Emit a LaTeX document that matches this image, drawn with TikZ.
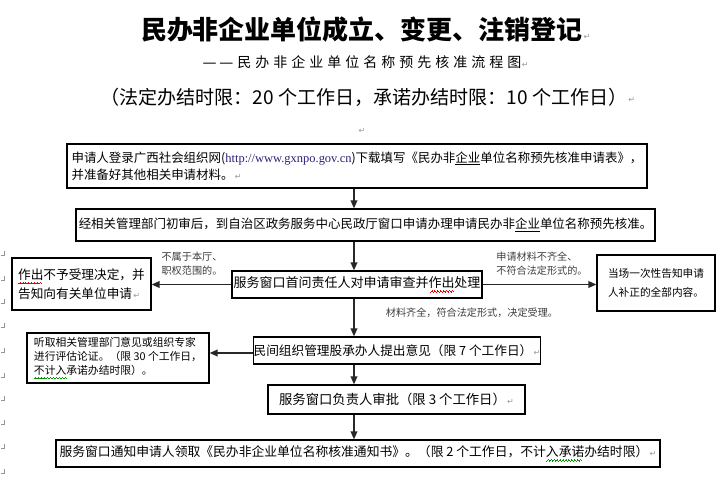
\documentclass[tikz,border=0pt]{standalone}
\usepackage{fontspec}
\setmainfont{Noto Sans CJK SC}
\newfontfamily\urlfont{Liberation Serif}
\newfontfamily\symfont{DejaVu Sans}
\usetikzlibrary{arrows.meta}
\definecolor{markgray}{RGB}{150,150,150}
\definecolor{urlblue}{RGB}{50,30,120}
\definecolor{wavered}{RGB}{230,0,0}
\definecolor{wavegreen}{RGB}{0,150,0}
\definecolor{arrowgray}{RGB}{40,40,40}
\definecolor{labelgray}{RGB}{60,60,60}
\newsavebox\wavebox
\newcommand\retmark{{\symfont\color{markgray}\fontsize{6}{6}\selectfont\,↵}}
\newcommand\waveunit{\hbox{\rule[-3.5pt]{0.55pt}{0.5pt}\rule[-3.0pt]{0.55pt}{0.5pt}\rule[-2.5pt]{0.55pt}{0.5pt}\rule[-3.0pt]{0.55pt}{0.5pt}}}
\newcommand\wavy[2]{\sbox\wavebox{#2}\rlap{\usebox\wavebox}\textcolor{#1}{\leaders\waveunit\hskip\wd\wavebox}}
\begin{document}
\begin{tikzpicture}[x=0.75pt,y=-0.75pt,
  box/.style={draw=black,line width=0.9pt,inner sep=0pt},
  arr/.style={line width=1.1pt,draw=arrowgray,-{Triangle[length=6pt,width=5pt]}},
  lbl/.style={inner sep=0pt,align=left,text=labelgray,font=\fontsize{7.6}{10.5}\selectfont},
  rmk/.style={inner sep=0pt,text=markgray,font=\symfont\fontsize{6}{6}\selectfont},
  ]
\useasboundingbox (0,0) rectangle (726,486);

% headings
\node[inner sep=0pt,font=\fontsize{19.5}{22}\selectfont\bfseries] (t1) at (362,30) {民办非企业单位成立、变更、注销登记};
\node[rmk,anchor=west] (t1m) at ([yshift=-5pt]t1.east) {↵};
\node[inner sep=0pt,font=\fontsize{10.5}{12}\selectfont] (t2) at (362,62)
  {{\symfont —\kern2pt—}\kern3pt民\kern3pt办\kern3pt非\kern3pt企\kern3pt业\kern3pt单\kern3pt位\kern3pt名\kern3pt称\kern3pt预\kern3pt先\kern3pt核\kern3pt准\kern3pt流\kern3pt程\kern3pt图};
\node[rmk,anchor=west] (t2m) at ([yshift=-2pt]t2.east) {↵};
\node[inner sep=0pt,font=\fontsize{14.3}{16}\selectfont] (t3) at (364,97) {（法定办结时限：20 个工作日，承诺办结时限：10 个工作日）};
\node[rmk,anchor=west] (t3m) at ([yshift=-2pt]t3.east) {↵};
\node[rmk] (m0) at (362,131) {↵};

% boxes
\node[box,minimum width=435pt,minimum height=33pt,align=left,font=\fontsize{9.35}{12.75}\selectfont] (A) at (357,166)
  {申请人登录广西社会组织网({\urlfont\color{urlblue}http://www.gxnpo.gov.cn})下载填写《民办非\underline{企业}单位名称预先核准申请表》，\\并准备好其他相关申请材料。\retmark};
\node[box,minimum width=434.25pt,minimum height=24pt,font=\fontsize{9.35}{12}\selectfont] (B) at (365.5,225)
  {经相关管理部门初审后，到自治区政务服务中心民政厅窗口申请办理申请民办非\underline{企业}单位名称预先核准。};
\node[box,minimum width=187.5pt,minimum height=20.25pt,font=\fontsize{9.75}{12}\selectfont] (C) at (357,284.5)
  {服务窗口首问责任人对申请审查并\wavy{wavered}{作出}处理};
\node[box,minimum width=104.25pt,minimum height=39pt,align=left,font=\fontsize{9.5}{14.25}\selectfont] (D) at (81.5,284)
  {\wavy{wavered}{作出}不予受理决定，并\\告知向有关单位申请\retmark};
\node[box,minimum width=88.5pt,minimum height=42pt,align=left,font=\fontsize{8}{14.25}\selectfont] (E) at (656,283)
  {当场一次性告知申请\\人补正的全部内容。};
\node[box,minimum width=214.5pt,minimum height=20.25pt,font=\fontsize{9.5}{12}\selectfont] (F) at (397,350.5)
  {民间组织管理股承办人提出意见（限 7 个工作日）\retmark};
\node[box,minimum width=136.5pt,minimum height=37.5pt,align=left,font=\fontsize{8.1}{10.5}\selectfont] (G) at (118,358)
  {听取相关管理部门意见或组织专家\\进行评估论证。（限 30 个工作日，\\\wavy{wavegreen}{不计入}承诺办结时限）。};
\node[box,minimum width=192.75pt,minimum height=21.75pt,font=\fontsize{10}{12}\selectfont] (H) at (396.5,399.5)
  {服务窗口负责人审批（限 3 个工作日）\retmark};
\node[box,minimum width=453pt,minimum height=20.25pt,font=\fontsize{9.6}{12}\selectfont] (I) at (358,453.5)
  {服务窗口通知申请人领取《民办非企业单位名称核准通知书》。（限 2 个工作日，不计\wavy{wavegreen}{入承诺}办结时限）\retmark};

% labels
\node[lbl] (L1) at (192,264) {不属于本厅、\\职权范围的。};
\node[lbl] (L2) at (542,264) {申请材料不齐全、\\不符合法定形式的。};
\node[lbl] (L3) at (472,313) {材料齐全，符合法定形式，决定受理。};

% connectors
\coordinate (ax) at (354,0);
\coordinate (fg) at (0,353);
\draw[arr] (A.south -| ax) -- (B.north -| ax);
\draw[arr] (B.south -| ax) -- (C.north -| ax);
\draw[arr] (C.south -| ax) -- (F.north -| ax);
\draw[arr] (F.south -| ax) -- (H.north -| ax);
\draw[arr] (H.south -| ax) -- (I.north -| ax);
\draw[arr] (C.west) -- (C.west -| D.east);
\draw[arr] (C.east) -- (C.east -| E.west);
\draw[arr] (F.west |- fg) -- (G.east |- fg);

% margin marks
\foreach \yy in {255,280,303,327,352,377,400,424,448,473}
  \draw[markgray,line width=0.5pt] (1,\yy) -- (4,\yy) -- (4,\yy-4);
\end{tikzpicture}
\end{document}
